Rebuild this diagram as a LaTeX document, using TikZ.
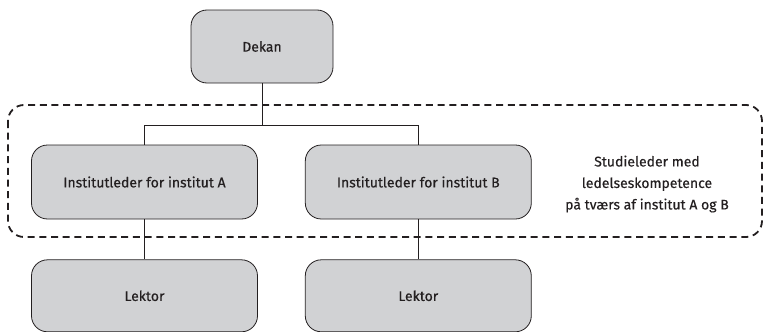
\documentclass[tikz,border=0pt]{standalone}
\usepackage{fontspec}
\setmainfont{Fira Sans}
\newfontfamily\unitfont[FakeBold=0.4]{Fira Sans}
\usepackage{tikz}
\usetikzlibrary{positioning}
\definecolor{boxgray}{HTML}{D1D2D4}
\definecolor{inkgray}{HTML}{231F20}
\tikzstyle{unit} = [rectangle, draw=inkgray, fill=boxgray, thick, rounded corners=16pt, minimum height=74pt, minimum width=226pt, text=inkgray, font=\unitfont\fontsize{14}{16}\selectfont]
\tikzstyle{topunit} = [unit, minimum width=142pt, minimum height=73pt]
\tikzstyle{line} = [inkgray, semithick]
\tikzstyle{group} = [inkgray, line width=1.8pt, dash pattern=on 7pt off 4.7pt, rounded corners=16pt]

\begin{document}
\begin{tikzpicture}[x=1pt, y=1pt, align=center, node distance = 0pt]
\useasboundingbox (0,0) rectangle (764,-332);

\node(D)[topunit] at (262,-46.5) {Dekan};

\node(IA)[unit] at (144.5,-182) {Institutleder for institut A};
\node(IB)[unit, right = 47pt of IA] {Institutleder for institut B};

\node(LA)[unit, below = 40pt of IA, minimum height=72pt] {Lektor};
\node(LB)[unit, below = 40pt of IB, minimum height=72pt] {Lektor};

\draw [group] (8,-105) rectangle (762,-237);
\node(S)[text=inkgray, font=\unitfont\fontsize{14}{21.5}\selectfont] at (647,-184) {Studieleder med\\ledelseskompetence\\på tværs af institut A og B};

\draw [line] (D.south) -- ++(0,-42) -| (IA.north);
\draw [line] (D.south) -- ++(0,-42) -| (IB.north);
\draw [line] (IA) -- (LA);
\draw [line] (IB) -- (LB);

\end{tikzpicture}
\end{document}
